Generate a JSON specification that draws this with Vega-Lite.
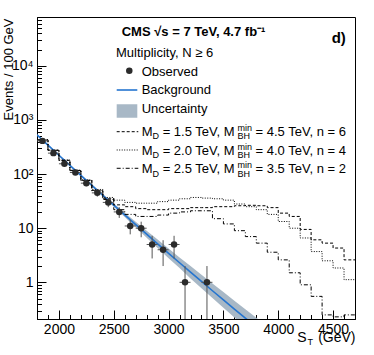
{
  "$schema": "https://vega.github.io/schema/vega-lite/v6.json",
  "width": 318,
  "height": 302,
  "autosize": {"type": "none"},
  "padding": {"left": 37, "top": 17, "right": 19, "bottom": 36},
  "resolve": {"axis": {"x": "independent", "y": "independent"}},
  "config": {
    "font": "Liberation Sans",
    "view": {"stroke": "#000", "strokeWidth": 1},
    "axis": {"grid": false, "domainColor": "#000", "tickColor": "#000", "labelColor": "#000", "titleColor": "#000", "labelFont": "Liberation Sans", "titleFont": "Liberation Sans", "titleFontWeight": "normal", "tickWidth": 1}
  },
  "datasets": {
    "bkg": [
      {"st":1800,"n":530.9,"lo":518.8,"hi":543.3},
      {"st":1900,"n":343.6,"lo":335.8,"hi":351.6},
      {"st":2000,"n":223.0,"lo":216.9,"hi":229.3},
      {"st":2100,"n":145.2,"lo":140.6,"hi":149.9},
      {"st":2200,"n":94.7,"lo":91.3,"hi":98.3},
      {"st":2300,"n":62.0,"lo":59.2,"hi":64.9},
      {"st":2400,"n":40.7,"lo":38.4,"hi":43.1},
      {"st":2500,"n":26.8,"lo":25.0,"hi":28.7},
      {"st":2600,"n":17.66,"lo":16.1,"hi":19.4},
      {"st":2700,"n":11.68,"lo":10.41,"hi":13.1},
      {"st":2800,"n":7.75,"lo":6.67,"hi":9.0},
      {"st":2900,"n":5.15,"lo":4.29,"hi":6.2},
      {"st":3000,"n":3.44,"lo":2.79,"hi":4.23},
      {"st":3100,"n":2.30,"lo":1.83,"hi":2.89},
      {"st":3200,"n":1.54,"lo":1.18,"hi":2.01},
      {"st":3300,"n":1.037,"lo":0.778,"hi":1.383},
      {"st":3400,"n":0.699,"lo":0.513,"hi":0.954},
      {"st":3500,"n":0.473,"lo":0.339,"hi":0.660},
      {"st":3600,"n":0.3206,"lo":0.2244,"hi":0.458},
      {"st":3700,"n":0.218,"lo":0.149,"hi":0.319},
      {"st":3800,"n":0.1486,"lo":0.0993,"hi":0.2223},
      {"st":3900,"n":0.1016,"lo":0.0671,"hi":0.1537}
    ],
    "sig": [
      {"model":"MD1.5_n6","st":1800,"n":428},{"model":"MD1.5_n6","st":1900,"n":276},{"model":"MD1.5_n6","st":2000,"n":180},{"model":"MD1.5_n6","st":2100,"n":117},{"model":"MD1.5_n6","st":2200,"n":77},{"model":"MD1.5_n6","st":2300,"n":50},{"model":"MD1.5_n6","st":2400,"n":35},{"model":"MD1.5_n6","st":2500,"n":27},{"model":"MD1.5_n6","st":2600,"n":25},{"model":"MD1.5_n6","st":2700,"n":23},{"model":"MD1.5_n6","st":2800,"n":22},{"model":"MD1.5_n6","st":2900,"n":22},{"model":"MD1.5_n6","st":3000,"n":23},{"model":"MD1.5_n6","st":3100,"n":23},{"model":"MD1.5_n6","st":3200,"n":24},{"model":"MD1.5_n6","st":3300,"n":24},{"model":"MD1.5_n6","st":3400,"n":25},{"model":"MD1.5_n6","st":3500,"n":25},{"model":"MD1.5_n6","st":3600,"n":26},{"model":"MD1.5_n6","st":3700,"n":26.5},{"model":"MD1.5_n6","st":3800,"n":26},{"model":"MD1.5_n6","st":3900,"n":24},{"model":"MD1.5_n6","st":4000,"n":19},{"model":"MD1.5_n6","st":4100,"n":16.5},{"model":"MD1.5_n6","st":4200,"n":9.5},{"model":"MD1.5_n6","st":4300,"n":6.1},{"model":"MD1.5_n6","st":4400,"n":5.3},{"model":"MD1.5_n6","st":4500,"n":4.3},{"model":"MD1.5_n6","st":4600,"n":2.6},{"model":"MD1.5_n6","st":4700,"n":2.6},
      {"model":"MD2.0_n4","st":1800,"n":430},{"model":"MD2.0_n4","st":1900,"n":278},{"model":"MD2.0_n4","st":2000,"n":182},{"model":"MD2.0_n4","st":2100,"n":118},{"model":"MD2.0_n4","st":2200,"n":78},{"model":"MD2.0_n4","st":2300,"n":52},{"model":"MD2.0_n4","st":2400,"n":37},{"model":"MD2.0_n4","st":2500,"n":33},{"model":"MD2.0_n4","st":2600,"n":30},{"model":"MD2.0_n4","st":2700,"n":29},{"model":"MD2.0_n4","st":2800,"n":29},{"model":"MD2.0_n4","st":2900,"n":31},{"model":"MD2.0_n4","st":3000,"n":33},{"model":"MD2.0_n4","st":3100,"n":35},{"model":"MD2.0_n4","st":3200,"n":37},{"model":"MD2.0_n4","st":3300,"n":36},{"model":"MD2.0_n4","st":3400,"n":35},{"model":"MD2.0_n4","st":3500,"n":33},{"model":"MD2.0_n4","st":3600,"n":28},{"model":"MD2.0_n4","st":3700,"n":25},{"model":"MD2.0_n4","st":3800,"n":22},{"model":"MD2.0_n4","st":3900,"n":18},{"model":"MD2.0_n4","st":4000,"n":13.3},{"model":"MD2.0_n4","st":4100,"n":10},{"model":"MD2.0_n4","st":4200,"n":6.6},{"model":"MD2.0_n4","st":4300,"n":3.7},{"model":"MD2.0_n4","st":4400,"n":2.5},{"model":"MD2.0_n4","st":4500,"n":1.84},{"model":"MD2.0_n4","st":4600,"n":1.12},{"model":"MD2.0_n4","st":4700,"n":1.12},
      {"model":"MD2.5_n2","st":1800,"n":427},{"model":"MD2.5_n2","st":1900,"n":275},{"model":"MD2.5_n2","st":2000,"n":179},{"model":"MD2.5_n2","st":2100,"n":116},{"model":"MD2.5_n2","st":2200,"n":76},{"model":"MD2.5_n2","st":2300,"n":49},{"model":"MD2.5_n2","st":2400,"n":34},{"model":"MD2.5_n2","st":2500,"n":22},{"model":"MD2.5_n2","st":2600,"n":18},{"model":"MD2.5_n2","st":2700,"n":16.5},{"model":"MD2.5_n2","st":2800,"n":16.5},{"model":"MD2.5_n2","st":2900,"n":17.5},{"model":"MD2.5_n2","st":3000,"n":19},{"model":"MD2.5_n2","st":3100,"n":20},{"model":"MD2.5_n2","st":3200,"n":21},{"model":"MD2.5_n2","st":3300,"n":21},{"model":"MD2.5_n2","st":3400,"n":15},{"model":"MD2.5_n2","st":3500,"n":12},{"model":"MD2.5_n2","st":3600,"n":9},{"model":"MD2.5_n2","st":3700,"n":7},{"model":"MD2.5_n2","st":3800,"n":5.3},{"model":"MD2.5_n2","st":3900,"n":3.6},{"model":"MD2.5_n2","st":4000,"n":2.6},{"model":"MD2.5_n2","st":4100,"n":1.5},{"model":"MD2.5_n2","st":4200,"n":0.9},{"model":"MD2.5_n2","st":4300,"n":0.55},{"model":"MD2.5_n2","st":4400,"n":0.25},{"model":"MD2.5_n2","st":4500,"n":0.23},{"model":"MD2.5_n2","st":4600,"n":0.25},{"model":"MD2.5_n2","st":4700,"n":0.25}
    ],
    "obs": [
      {"st":1850,"n":411,"lo":391,"hi":431,"x1":1800,"x2":1900},
      {"st":1950,"n":244,"lo":228.4,"hi":259.6,"x1":1900,"x2":2000},
      {"st":2050,"n":155,"lo":142.6,"hi":167.4,"x1":2000,"x2":2100},
      {"st":2150,"n":107,"lo":96.7,"hi":117.3,"x1":2100,"x2":2200},
      {"st":2250,"n":68,"lo":59.8,"hi":76.2,"x1":2200,"x2":2300},
      {"st":2350,"n":45,"lo":38.3,"hi":51.7,"x1":2300,"x2":2400},
      {"st":2450,"n":30,"lo":24.5,"hi":35.5,"x1":2400,"x2":2500},
      {"st":2550,"n":20,"lo":15.5,"hi":24.5,"x1":2500,"x2":2600},
      {"st":2650,"n":11,"lo":7.7,"hi":14.3,"x1":2600,"x2":2700},
      {"st":2750,"n":10,"lo":6.8,"hi":13.2,"x1":2700,"x2":2800},
      {"st":2850,"n":5,"lo":2.76,"hi":7.24,"x1":2800,"x2":2900},
      {"st":2950,"n":4,"lo":2,"hi":6,"x1":2900,"x2":3000},
      {"st":3050,"n":5,"lo":2.76,"hi":7.24,"x1":3000,"x2":3100},
      {"st":3150,"n":1,"lo":0.01,"hi":2,"x1":3100,"x2":3200},
      {"st":3350,"n":1,"lo":0.01,"hi":2,"x1":3300,"x2":3400}
    ],
    "legLines": [
      {"model":"MD1.5_n6","st":2526.8,"st2":2723.8,"n":607.5},
      {"model":"MD2.0_n4","st":2526.8,"st2":2723.8,"n":278.8},
      {"model":"MD2.5_n2","st":2526.8,"st2":2723.8,"n":128.0}
    ],
    "txtNormal": [
      {"st":2520.4,"n":14770,"label":"Multiplicity, N ≥ 6"},
      {"st":2754.8,"n":6581,"label":"Observed"},
      {"st":2754.8,"n":3021,"label":"Background"},
      {"st":2754.8,"n":1329,"label":"Uncertainty"},
      {"st":2754.8,"n":512.2,"label":"M"},
      {"st":2945.8,"n":512.2,"label":"= 1.5 TeV, M"},
      {"st":3793.0,"n":512.2,"label":"= 4.5 TeV, n = 6"},
      {"st":2754.8,"n":225.4,"label":"M"},
      {"st":2945.8,"n":225.4,"label":"= 2.0 TeV, M"},
      {"st":3793.0,"n":225.4,"label":"= 4.0 TeV, n = 4"},
      {"st":2754.8,"n":103.4,"label":"M"},
      {"st":2945.8,"n":103.4,"label":"= 2.5 TeV, M"},
      {"st":3793.0,"n":103.4,"label":"= 3.5 TeV, n = 2"}
    ],
    "txtSmall": [
      {"st":2853.6,"n":441.5,"label":"D"},
      {"st":3627.8,"n":441.5,"label":"BH"},
      {"st":3627.8,"n":633.9,"label":"min"},
      {"st":2853.6,"n":194.2,"label":"D"},
      {"st":3627.8,"n":194.2,"label":"BH"},
      {"st":3627.8,"n":278.8,"label":"min"},
      {"st":2853.6,"n":89.1,"label":"D"},
      {"st":3627.8,"n":89.1,"label":"BH"},
      {"st":3627.8,"n":128.0,"label":"min"},
      {"st":4267,"n":0.0695,"label":"T"}
    ]
  },
  "layer": [
    {
      "data": {"name": "bkg"},
      "mark": {"type": "area", "color": "#a8b8c6", "clip": true},
      "encoding": {
        "x": {"field": "st", "type": "quantitative", "scale": {"domain": [1800, 4700], "nice": false, "zero": false},
          "axis": {
            "orient": "bottom",
            "title": "S\u00a0\u00a0\u00a0(GeV)",
            "values": [2000, 2500, 3000, 3500, 4000, 4500],
            "format": "d",
            "ticks": false, "tickSize": 0,
            "labelPadding": 3,
            "labelFontSize": 14,
            "labelFlush": false, "labelOverlap": false, "labelBound": false,
            "titleFontSize": 14, "titleAnchor": "end", "titleAlign": "right", "titleBaseline": "alphabetic",
            "titleX": 318, "titleY": 22.5
          }},
        "y": {"field": "lo", "type": "quantitative", "scale": {"type": "log", "domain": [0.21, 80000], "nice": false},
          "axis": {
            "orient": "left",
            "title": "Events / 100 GeV",
            "values": [1, 10, 100, 1000, 10000],
            "labelExpr": "datum.value == 1 ? '1' : datum.value == 10 ? '10' : datum.value == 100 ? '10²' : datum.value == 1000 ? '10³' : '10⁴'",
            "ticks": false, "tickSize": 0,
            "labelPadding": 4,
            "labelFontSize": 14,
            "labelFlush": false, "labelOverlap": false, "labelBound": false,
            "titleFontSize": 13, "titleAngle": -90, "titleAnchor": "end", "titleAlign": "right", "titleBaseline": "alphabetic",
            "titleX": -25, "titleY": 1
          }},
        "y2": {"field": "hi"}
      }
    },
    {
      "data": {"name": "bkg"},
      "mark": {"type": "line", "color": "#2575d0", "strokeWidth": 1.6, "clip": true},
      "encoding": {
        "x": {"field": "st", "type": "quantitative",
          "axis": {"orient": "bottom", "title": null, "values": [2000, 2500, 3000, 3500, 4000, 4500], "labels": false, "domain": false, "ticks": true, "tickSize": 9, "offset": -9}},
        "y": {"field": "n", "type": "quantitative",
          "axis": {"orient": "left", "title": null, "values": [1, 10, 100, 1000, 10000], "labels": false, "domain": false, "ticks": true, "tickSize": 9, "offset": -9}}
      }
    },
    {
      "data": {"name": "sig"},
      "mark": {"type": "line", "interpolate": "step-after", "color": "#000", "strokeWidth": 1, "clip": true},
      "encoding": {
        "x": {"field": "st", "type": "quantitative",
          "axis": {"orient": "bottom", "title": null, "values": [1800,1900,2000,2100,2200,2300,2400,2500,2600,2700,2800,2900,3000,3100,3200,3300,3400,3500,3600,3700,3800,3900,4000,4100,4200,4300,4400,4500,4600,4700], "labels": false, "domain": false, "ticks": true, "tickSize": 4.5, "offset": -4.5}},
        "y": {"field": "n", "type": "quantitative",
          "axis": {"orient": "left", "title": null, "values": [0.3,0.4,0.5,0.6,0.7,0.8,0.9,1,2,3,4,5,6,7,8,9,10,20,30,40,50,60,70,80,90,100,200,300,400,500,600,700,800,900,1000,2000,3000,4000,5000,6000,7000,8000,9000,10000,20000,30000,40000,50000,60000,70000,80000], "labels": false, "domain": false, "ticks": true, "tickSize": 4.5, "offset": -4.5}},
        "strokeDash": {"field": "model", "type": "nominal", "scale": {"domain": ["MD1.5_n6","MD2.0_n4","MD2.5_n2"], "range": [[3,2],[1,1.5],[4,2,1,2]]}, "legend": null}
      }
    },
    {
      "data": {"name": "legLines"},
      "mark": {"type": "rule", "color": "#000", "strokeWidth": 1},
      "encoding": {
        "x": {"field": "st", "type": "quantitative", "axis": null},
        "x2": {"field": "st2"},
        "y": {"field": "n", "type": "quantitative", "axis": null},
        "strokeDash": {"field": "model", "type": "nominal", "legend": null}
      }
    },
    {
      "data": {"values": [{"st": 2526.8, "st2": 2714.7, "n": 3581}]},
      "mark": {"type": "rule", "color": "#2575d0", "strokeWidth": 1.6},
      "encoding": {
        "x": {"field": "st", "type": "quantitative", "axis": null},
        "x2": {"field": "st2"},
        "y": {"field": "n", "type": "quantitative", "axis": null}
      }
    },
    {
      "data": {"values": [{"st": 2526.8, "st2": 2714.7, "n": 1102, "n2": 1949}]},
      "mark": {"type": "rect", "color": "#a8b8c6"},
      "encoding": {
        "x": {"field": "st", "type": "quantitative", "axis": null},
        "x2": {"field": "st2"},
        "y": {"field": "n", "type": "quantitative", "axis": null},
        "y2": {"field": "n2"}
      }
    },
    {
      "data": {"name": "obs"},
      "mark": {"type": "rule", "color": "#555", "strokeWidth": 1, "clip": true},
      "encoding": {
        "x": {"field": "st", "type": "quantitative", "axis": null},
        "y": {"field": "lo", "type": "quantitative", "axis": null},
        "y2": {"field": "hi"}
      }
    },
    {
      "data": {"name": "obs"},
      "mark": {"type": "rule", "color": "#555", "strokeWidth": 1, "clip": true},
      "encoding": {
        "x": {"field": "x1", "type": "quantitative", "axis": null},
        "x2": {"field": "x2"},
        "y": {"field": "n", "type": "quantitative", "axis": null}
      }
    },
    {
      "data": {"name": "obs"},
      "mark": {"type": "point", "filled": true, "color": "#2b2b2b", "opacity": 1, "size": 42},
      "encoding": {
        "x": {"field": "st", "type": "quantitative", "axis": null},
        "y": {"field": "n", "type": "quantitative", "axis": null}
      }
    },
    {
      "data": {"values": [{"st": 2641.7, "n": 8141}]},
      "mark": {"type": "point", "filled": true, "color": "#2b2b2b", "opacity": 1, "size": 42},
      "encoding": {
        "x": {"field": "st", "type": "quantitative", "axis": null},
        "y": {"field": "n", "type": "quantitative", "axis": null}
      }
    },
    {
      "data": {"name": "txtNormal"},
      "mark": {"type": "text", "align": "left", "baseline": "alphabetic", "fontSize": 13, "color": "#000"},
      "encoding": {
        "x": {"field": "st", "type": "quantitative", "axis": null},
        "y": {"field": "n", "type": "quantitative", "axis": null},
        "text": {"field": "label"}
      }
    },
    {
      "data": {"name": "txtSmall"},
      "mark": {"type": "text", "align": "left", "baseline": "alphabetic", "fontSize": 9, "color": "#000"},
      "encoding": {
        "x": {"field": "st", "type": "quantitative", "axis": null},
        "y": {"field": "n", "type": "quantitative", "axis": null},
        "text": {"field": "label"}
      }
    },
    {
      "data": {"values": [{"st": 2572.4, "n": 35645, "label": "CMS √s = 7 TeV, 4.7 fb⁻¹"}]},
      "mark": {"type": "text", "align": "left", "baseline": "alphabetic", "fontSize": 13, "fontWeight": "bold", "color": "#000"},
      "encoding": {
        "x": {"field": "st", "type": "quantitative", "axis": null},
        "y": {"field": "n", "type": "quantitative", "axis": null},
        "text": {"field": "label"}
      }
    },
    {
      "data": {"values": [{"st": 4487.5, "n": 26460, "label": "d)"}]},
      "mark": {"type": "text", "align": "left", "baseline": "alphabetic", "fontSize": 15, "fontWeight": "bold", "color": "#000"},
      "encoding": {
        "x": {"field": "st", "type": "quantitative", "axis": null},
        "y": {"field": "n", "type": "quantitative", "axis": null},
        "text": {"field": "label"}
      }
    }
  ]
}
